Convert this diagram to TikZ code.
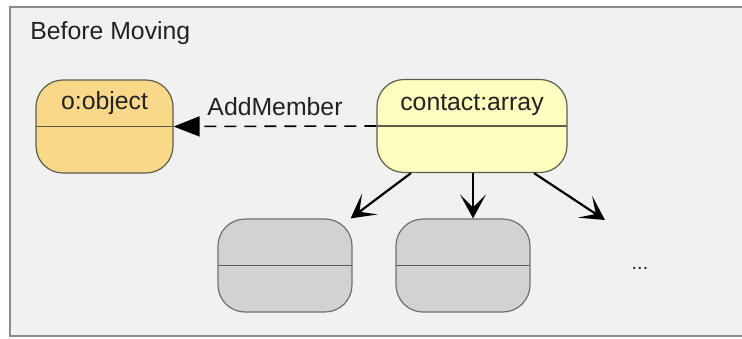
\documentclass[tikz,border=0pt]{standalone}
\usepackage{fontspec}
\setmainfont{Liberation Sans}
\usetikzlibrary{arrows.meta, positioning, calc}
\definecolor{FrameGray}{HTML}{8C8C8C}
\definecolor{PanelGray}{HTML}{F1F1F1}
\definecolor{ObjOrange}{HTML}{F9D88A}
\definecolor{ArrayYellow}{HTML}{FFFFC0}
\definecolor{ItemGray}{HTML}{D2D2D2}
\definecolor{EdgeDark}{HTML}{5E5E4A}
\definecolor{TextDark}{HTML}{222222}
\tikzset{
  classbox/.style={rectangle, rounded corners=13.5pt, draw=EdgeDark, line width=0.6pt, minimum height=46.5pt, inner sep=0pt, path picture={\draw[EdgeDark, line width=0.6pt] (path picture bounding box.west) -- (path picture bounding box.east);}},
  objectbox/.style={classbox, fill=ObjOrange, minimum width=68.5pt},
  arraybox/.style={classbox, fill=ArrayYellow, minimum width=95pt},
  itembox/.style={classbox, fill=ItemGray, draw=FrameGray!80!black, minimum width=67pt},
  nametext/.style={font=\fontsize{12.4}{14}\selectfont, text=TextDark, inner sep=0pt},
  arrow/.style={-{Stealth[length=12pt, width=13pt, inset=6.5pt]}, line width=1.1pt, black},
  dashedarrow/.style={-{Triangle[length=13pt, width=10pt]}, line width=0.8pt, dash pattern=on 6pt off 4pt, black}
}
\begin{document}
\begin{tikzpicture}[x=0.5pt, y=-0.5pt]
  \useasboundingbox (0,0) rectangle (742,338);

  % Panel
  \fill[PanelGray] (10,7) rectangle (742,336);
  \draw[FrameGray, line width=1pt] (742,7) -- (10,7) -- (10,336) -- (742,336);
  \node[nametext, anchor=west] (title) at (30,33) {Before Moving};

  % Objects
  \node[objectbox] (obj) at (104.5,126.5) {};
  \node[nametext] (obj-name) at ([yshift=11.5pt]obj.center) {o:object};

  \node[arraybox] (contact) at (472,126) {};
  \node[nametext] (contact-name) at ([yshift=10.5pt]contact.center) {contact:array};

  % Array items
  \node[itembox] (item1) at (285,265.5) {};
  \node[itembox] (item2) at (463,265.5) {};
  \node[font=\fontsize{10}{12}\selectfont, text=TextDark] (more) at (640,268) {...};
  \coordinate (item3) at (605,220);

  % Connectors
  \draw[dashedarrow] (contact.west) -- node[nametext, above=5pt] (add-label) {AddMember} (obj.east);
  \draw[arrow] ([xshift=-30.5pt]contact.south) -- ([xshift=-1pt]item1.north east);
  \draw[arrow] ([xshift=0.5pt]contact.south) -- ([xshift=0.5pt]contact.south |- item2.north);
  \draw[arrow] ([xshift=31pt]contact.south) -- (item3);
\end{tikzpicture}
\end{document}
